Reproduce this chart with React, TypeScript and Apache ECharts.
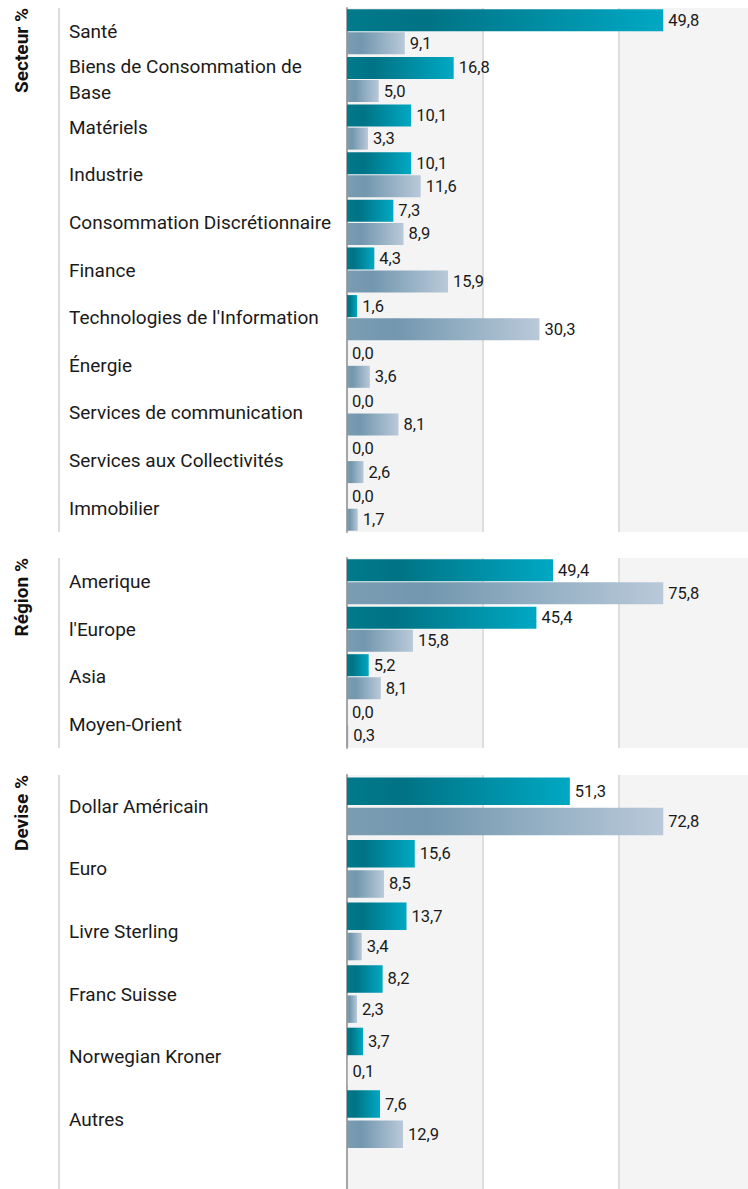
import React, { useEffect, useRef } from "react";
import * as echarts from "echarts";

const sectorCats = [
  "Santé",
  "Biens de Consommation de\nBase",
  "Matériels",
  "Industrie",
  "Consommation Discrétionnaire",
  "Finance",
  "Technologies de l'Information",
  "Énergie",
  "Services de communication",
  "Services aux Collectivités",
  "Immobilier",
];
const sectorFund = [49.8, 16.8, 10.1, 10.1, 7.3, 4.3, 1.6, 0.0, 0.0, 0.0, 0.0];
const sectorIndex = [9.1, 5.0, 3.3, 11.6, 8.9, 15.9, 30.3, 3.6, 8.1, 2.6, 1.7];

const regionCats = ["Amerique", "l'Europe", "Asia", "Moyen-Orient"];
const regionFund = [49.4, 45.4, 5.2, 0.0];
const regionIndex = [75.8, 15.8, 8.1, 0.3];

const currencyCats = ["Dollar Américain", "Euro", "Livre Sterling", "Franc Suisse", "Norwegian Kroner", "Autres"];
const currencyFund = [51.3, 15.6, 13.7, 8.2, 3.7, 7.6];
const currencyIndex = [72.8, 8.5, 3.4, 2.3, 0.1, 12.9];

const panelTitles = ["Secteur %", "Région %", "Devise %"];

const FONT = "Roboto, sans-serif";

export default function App() {
  const ref = useRef<HTMLDivElement>(null);
  useEffect(() => {
    document.body.style.margin = "0";
    const chart = echarts.init(ref.current!, null, { renderer: "svg" });

    const panels = [
      { cats: sectorCats, fund: sectorFund, idx: sectorIndex, top: 8, height: 524, barWidth: 22, barGap: "5%" },
      { cats: regionCats, fund: regionFund, idx: regionIndex, top: 558, height: 190, barWidth: 22, barGap: "5%" },
      { cats: [...currencyCats, ""], fund: currencyFund, idx: currencyIndex, top: 775, height: 438, barWidth: 27.5, barGap: "10%" },
    ];

    const darkGrad = new echarts.graphic.LinearGradient(0, 0, 1, 0, [
      { offset: 0, color: "#007a8c" },
      { offset: 0.25, color: "#007385" },
      { offset: 1, color: "#00a8c3" },
    ]);
    const lightGrad = new echarts.graphic.LinearGradient(0, 0, 1, 0, [
      { offset: 0, color: "#7b9db3" },
      { offset: 0.25, color: "#7297ae" },
      { offset: 1, color: "#b9c9d9" },
    ]);

    const fmt = (p: any) => (p.value as number).toFixed(1).replace(".", ",");

    const grid: any[] = [];
    const xAxis: any[] = [];
    const yAxis: any[] = [];
    const series: any[] = [];
    const graphic: any[] = [];

    panels.forEach((p, i) => {
      const dataMax = Math.max(...p.fund, ...p.idx);
      const max = dataMax * 1.287;
      grid.push({ left: 347, width: 407, top: p.top, height: p.height, outerBoundsMode: "none", containLabel: false });
      xAxis.push({
        type: "value",
        gridIndex: i,
        min: 0,
        max: max,
        interval: max / 3,
        axisLabel: { show: false },
        axisLine: { show: false },
        axisTick: { show: false },
        splitLine: { show: true, lineStyle: { color: "#dedede", width: 2 } },
        splitArea: { show: true, areaStyle: { color: ["#f4f4f4", "#ffffff"] } },
      });
      yAxis.push({
        type: "category",
        gridIndex: i,
        inverse: true,
        data: p.cats,
        axisLine: { show: true, lineStyle: { color: "#a6a6a6", width: 2 } },
        axisTick: { show: false },
        splitLine: { show: false },
        axisLabel: {
          align: "left",
          margin: 278,
          lineHeight: 26,
          fontSize: 19,
          fontFamily: FONT,
          color: "#1a1a1a",
        },
      });
      const lbl = {
        show: true,
        position: "right",
        distance: 5,
        formatter: fmt,
        fontSize: 16.5,
        fontFamily: FONT,
        color: "#1a1a1a",
      };
      series.push({
        type: "bar",
        name: "Fonds",
        xAxisIndex: i,
        yAxisIndex: i,
        data: p.fund,
        barWidth: p.barWidth,
        barGap: p.barGap,
        itemStyle: { color: darkGrad },
        label: lbl,
      });
      series.push({
        type: "bar",
        name: "Indice",
        xAxisIndex: i,
        yAxisIndex: i,
        data: p.idx,
        barWidth: p.barWidth,
        barGap: p.barGap,
        itemStyle: { color: lightGrad },
        label: lbl,
      });
      const bottom = Math.min(p.top + p.height, 1189);
      graphic.push({
        type: "line",
        shape: { x1: 59, y1: p.top, x2: 59, y2: bottom },
        style: { stroke: "#dcdcdc", lineWidth: 2 },
        silent: true,
      });
      graphic.push({
        type: "text",
        x: 21,
        y: p.top,
        rotation: Math.PI / 2,
        style: {
          text: panelTitles[i],
          align: "right",
          verticalAlign: "middle",
          fontSize: 19,
          fontWeight: "bold",
          fontFamily: "Roboto, sans-serif",
          fill: "#111",
        },
        silent: true,
      });
    });

    chart.setOption({
      animation: false,
      grid,
      xAxis,
      yAxis,
      series,
      graphic,
    });
    return () => chart.dispose();
  }, []);
  return <div ref={ref} style={{ width: 748, height: 1189 }} />;
}
